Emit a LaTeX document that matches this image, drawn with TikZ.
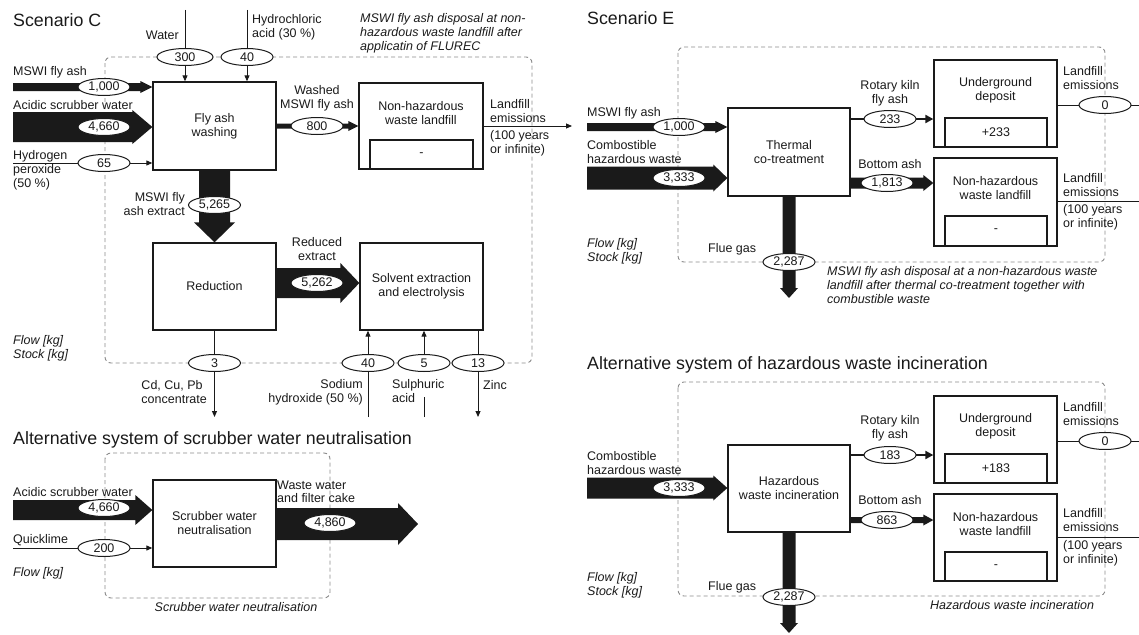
\documentclass[tikz,border=0pt]{standalone}
\usepackage{fontspec}
\setmainfont{Liberation Sans}
\usetikzlibrary{shapes.geometric,arrows.meta,calc}
\definecolor{ink}{HTML}{1A1A1A}
\definecolor{bnd}{HTML}{8A8A8A}
\newcommand\fsz{\fontsize{12.5}{14}\selectfont}
\newcommand\hsz{\fontsize{17.8}{20}\selectfont}
% horizontal band arrow: start, tip, half band, half head, head length
\newcommand\harr[5]{\fill[ink] let \p1=#1, \p2=#2 in
  (\x1,\y1-#3) -- (\x2-#5,\y1-#3) -- (\x2-#5,\y1-#4) -- (\x2,\y1) --
  (\x2-#5,\y1+#4) -- (\x2-#5,\y1+#3) -- (\x1,\y1+#3) -- cycle;}
% vertical (downward) band arrow
\newcommand\varr[5]{\fill[ink] let \p1=#1, \p2=#2 in
  (\x1-#3,\y1) -- (\x1-#3,\y2+#5) -- (\x1-#4,\y2+#5) -- (\x1,\y2) --
  (\x1+#4,\y2+#5) -- (\x1+#3,\y2+#5) -- (\x1+#3,\y1) -- cycle;}
\begin{document}
\begin{tikzpicture}[x=1pt,y=-1pt,
  box/.style={draw=ink, line width=1.3pt, inner sep=0pt, font=\fsz, text=ink, align=center},
  val/.style={ellipse, draw=ink, line width=1pt, fill=white, minimum width=52pt, minimum height=17pt, inner sep=0pt, font=\fsz, text=ink},
  lb/.style={inner sep=0pt, font=\fsz, align=center, text=ink},
  lbw/.style={lb, anchor=west, align=left},
  lbe/.style={lb, anchor=east, align=left},
  lber/.style={lb, anchor=east, align=right},
  ital/.style={lbw, font=\fsz\itshape},
  italc/.style={lb, font=\fsz\itshape},
  head/.style={inner sep=0pt, anchor=west, font=\hsz, text=ink},
  bound/.style={draw=bnd, line width=0.9pt, dash pattern=on 4pt off 3pt, rounded corners=6pt},
  thin/.style={draw=ink, line width=1pt},
  thinarr/.style={thin, -{Triangle[length=6pt,width=5pt]}},
  medarr/.style={draw=ink, line width=2pt, -{Triangle[length=8pt,width=8pt]}}]
\useasboundingbox (0,0) rectangle (1139,634);

% ================= boundaries =================
\draw[bound] (105,57) rectangle (532,363);
\draw[bound] (678,47) rectangle (1105,262);
\draw[bound] (678,382) rectangle (1105,596);
\draw[bound] (105,453) rectangle (330,598);

% ================= boxes =================
% Scenario C
\node[box, minimum width=123pt, minimum height=88pt] (fw) at (214.5,126) {Fly ash\\washing};
\node[box, minimum width=124pt, minimum height=86pt] (lf) at (421,126) {};
\node[box, minimum width=103pt, minimum height=29pt] (lfi) at (421.5,154.5) {-};
\node[box, minimum width=123pt, minimum height=87pt] (red) at (214.5,286.5) {Reduction};
\node[box, minimum width=123pt, minimum height=87pt] (sx) at (421.5,286.5) {Solvent extraction\\and electrolysis};
% Scrubber neutralisation
\node[box, minimum width=123pt, minimum height=87pt] (sn) at (214.5,523.5) {Scrubber water\\neutralisation};
% Scenario E
\node[box, minimum width=122pt, minimum height=88pt] (tc) at (789,152) {Thermal\\co-treatment};
\node[box, minimum width=123pt, minimum height=87pt] (ud) at (995.5,103.5) {};
\node[box, minimum width=102pt, minimum height=29pt] (udi) at (996,132.5) {+233};
\node[box, minimum width=123pt, minimum height=88pt] (nl) at (995.5,202) {};
\node[box, minimum width=102pt, minimum height=30pt] (nli) at (996,231) {-};
% Hazardous waste incineration
\node[box, minimum width=122pt, minimum height=87pt] (hw) at (789,488.5) {Hazardous\\waste incineration};
\node[box, minimum width=123pt, minimum height=87pt] (ud2) at (995.5,439.5) {};
\node[box, minimum width=102pt, minimum height=29pt] (udi2) at (996,468.5) {+183};
\node[box, minimum width=123pt, minimum height=87pt] (nl2) at (995.5,537.5) {};
\node[box, minimum width=102pt, minimum height=29pt] (nli2) at (996,566.5) {-};

% ================= free ends =================
\coordinate (cWat) at (185,10);
\coordinate (cHCl) at (247,10);
\coordinate (cMin) at (13,87);
\coordinate (cAin) at (13,127);
\coordinate (cHin) at (13,163);
\coordinate (cLF) at (572,126);
\coordinate (cCd) at (214.5,417);
\coordinate (cNa) at (368,417);
\coordinate (cSu) at (424,417);
\coordinate (cZn) at (478,417);
\coordinate (cEM) at (587,127);
\coordinate (cEC) at (587,178);
\coordinate (cEF) at (789,298);
\coordinate (cEU) at (1139,105);
\coordinate (cEN) at (1139,201);
\coordinate (cHC) at (587,488);
\coordinate (cHF) at (789,633);
\coordinate (cHU) at (1139,441);
\coordinate (cHN) at (1139,537);
\coordinate (cSA) at (13,510);
\coordinate (cSQ) at (13,548);
\coordinate (cSO) at (418,524);

% ================= flows: Scenario C =================
\draw[thinarr] (cWat) -- (fw.north -| cWat);
\draw[thinarr] (cHCl) -- (fw.north -| cHCl);
\harr{(cMin)}{(fw.west)}{4pt}{6pt}{12pt}
\harr{(cAin)}{(fw.west)}{15pt}{17pt}{20pt}
\draw[thinarr] (cHin) -- (fw.west |- cHin);
\harr{(fw.east)}{(lf.west)}{2.5pt}{5pt}{10pt}
\draw[thinarr] (lf.east) -- (cLF);
\varr{(fw.south)}{(red.north)}{15.5pt}{20.5pt}{20pt}
\harr{(red.east |- 0,283)}{(sx.west)}{15pt}{20pt}{19pt}
\draw[thinarr] (red.south) -- (cCd);
\draw[thinarr] (cNa) -- (sx.south -| cNa);
\draw[thin] (cSu) -- ++(0,-20);
\draw[thinarr] (cZn |- sx.south) -- (cZn);

% ================= flows: Scenario E =================
\harr{(cEM)}{(tc.west)}{4pt}{6pt}{12pt}
\harr{(cEC)}{(tc.west)}{11.5pt}{13.5pt}{14pt}
\varr{(tc.south)}{(cEF)}{6.5pt}{9pt}{10pt}
\draw[medarr] (tc.east |- 0,119) -- (ud.west |- 0,119);
\harr{(tc.east |- 0,183)}{(nl.west)}{5.5pt}{8pt}{10pt}
\draw[thin] (ud.east |- cEU) -- (cEU);
\draw[thin] (nl.east |- cEN) -- (cEN);

% ================= flows: Hazardous waste incineration =================
\harr{(cHC)}{(hw.west)}{10.5pt}{12.5pt}{14pt}
\varr{(hw.south)}{(cHF)}{6.5pt}{9pt}{10pt}
\draw[medarr] (hw.east |- 0,455) -- (ud2.west |- 0,455);
\harr{(hw.east |- 0,520)}{(nl2.west)}{3pt}{5.5pt}{10pt}
\draw[thin] (ud2.east |- cHU) -- (cHU);
\draw[thin] (nl2.east |- cHN) -- (cHN);

% ================= flows: scrubber neutralisation =================
\harr{(cSA)}{(sn.west)}{10pt}{15pt}{17pt}
\draw[thinarr] (cSQ) -- (sn.west |- cSQ);
\harr{(sn.east |- cSO)}{(cSO)}{16pt}{21pt}{20pt}

% ================= values =================
\node[val, minimum width=56pt] (v300) at (185,57) {300};
\node[val] (v40a) at (247,57) {40};
\node[val] (v1000a) at (104,87) {1,000};
\node[val] (v4660a) at (104,127) {4,660};
\node[val] (v65) at (104,163) {65};
\node[val] (v5265) at (214.5,205) {5,265};
\node[val] (v800) at (317,126) {800};
\node[val] (v5262) at (317,283) {5,262};
\node[val] (v3) at (214.5,363) {3};
\node[val] (v40b) at (368,363) {40};
\node[val] (v5) at (424,363) {5};
\node[val] (v13) at (478,363) {13};
\draw[thinarr] (v5.north) -- (sx.south -| v5);

\node[val] (v1000b) at (679,127) {1,000};
\node[val] (v3333a) at (679,178) {3,333};
\node[val] (v2287a) at (789,262) {2,287};
\node[val] (v233) at (890,119) {233};
\node[val] (v1813) at (887,183) {1,813};
\node[val] (v0a) at (1105,105) {0};

\node[val] (v3333b) at (679,488) {3,333};
\node[val] (v2287b) at (789,597) {2,287};
\node[val] (v183) at (890,455) {183};
\node[val] (v863) at (887,520) {863};
\node[val] (v0b) at (1105,441) {0};

\node[val] (v4660b) at (104,508) {4,660};
\node[val] (v200) at (104,548) {200};
\node[val] (v4860) at (330,523) {4,860};

% ================= labels: Scenario C =================
\node[head] (tC) at (13,20) {Scenario C};
\node[lbe] (tWat) at (179,35) {Water};
\node[lbw] (tHCl) at (252,27) {Hydrochloric\\acid (30 \%)};
\node[ital] (tCapC) at (360,33.5) {MSWI fly ash disposal at non-\\hazardous waste landfill after\\applicatin of FLUREC};
\node[lbw] (tMin) at (13,72) {MSWI fly ash};
\node[lbw] (tAin) at (13,105) {Acidic scrubber water};
\node[lbw] (tHin) at (13,170) {Hydrogen\\peroxide\\(50 \%)};
\node[lb] (tWash) at (317,98.5) {Washed\\MSWI fly ash};
\node[lb] (tLF) at (421,113.5) {Non-hazardous\\waste landfill};
\node[lbw] (tLE) at (490,111.5) {Landfill\\emissions};
\node[lbw] (tLY) at (490,143.5) {(100 years\\or infinite)};
\node[lber] (tExt) at (185,204) {MSWI fly\\ash extract};
\node[lb] (tRed) at (317,249) {Reduced\\extract};
\node[lbe] (tCd) at (207,392) {Cd, Cu, Pb\\concentrate};
\node[lber] (tNa) at (363,392) {Sodium\\hydroxide (50 \%)};
\node[lbw, fill=white] (tSu) at (392,385) {Sulphuric};
\node[lbw] (tSu2) at (392,398) {acid};
\node[lbw] (tZn) at (483,385) {Zinc};
\node[ital] (tFSC) at (13,348.5) {Flow [kg]\\Stock [kg]};

% ================= labels: scrubber neutralisation =================
\node[head] (tSN) at (13,440) {Alternative system of scrubber water neutralisation};
\node[lbw] (tSA) at (13,492) {Acidic scrubber water};
\node[lbw] (tSQ) at (13,540) {Quicklime};
\node[lbw, font=\fontsize{12.5}{13}\selectfont] (tSO) at (277,492) {Waste water\\and filter cake};
\node[ital] (tFSN) at (13,573) {Flow [kg]};
\node[italc] (tCapSN) at (236,607) {Scrubber water neutralisation};

% ================= labels: Scenario E =================
\node[head] (tE) at (587,18) {Scenario E};
\node[lbw] (tEM) at (587,113) {MSWI fly ash};
\node[lbw] (tEC) at (587,152.5) {Combostible\\hazardous waste};
\node[lbw] (tEF) at (708,249) {Flue gas};
\node[ital] (tFSE) at (587,251) {Flow [kg]\\Stock [kg]};
\node[lb] (tRK) at (890,93) {Rotary kiln\\fly ash};
\node[lb] (tBA) at (890,164) {Bottom ash};
\node[lb] (tUD) at (995.5,90.5) {Underground\\deposit};
\node[lb] (tNL) at (995.5,188) {Non-hazardous\\waste landfill};
\node[lbw] (tLE1) at (1063,78.5) {Landfill\\emissions};
\node[lbw] (tLE2) at (1063,185) {Landfill\\emissions};
\node[lbw] (tLY2) at (1063,217) {(100 years\\or infinite)};
\node[ital] (tCapE) at (827,285) {MSWI fly ash disposal at a non-hazardous waste\\landfill after thermal co-treatment together with\\combustible waste};

% ================= labels: Hazardous waste incineration =================
\node[head] (tHW) at (587,365) {Alternative system of hazardous waste incineration};
\node[lbw] (tHC) at (587,463.5) {Combostible\\hazardous waste};
\node[lbw] (tHF) at (708,587) {Flue gas};
\node[ital] (tFSH) at (587,585) {Flow [kg]\\Stock [kg]};
\node[lb] (tRK2) at (890,428.5) {Rotary kiln\\fly ash};
\node[lb] (tBA2) at (890,500) {Bottom ash};
\node[lb] (tUD2) at (995.5,426.5) {Underground\\deposit};
\node[lb] (tNL2) at (995.5,524.5) {Non-hazardous\\waste landfill};
\node[lbw] (tLE3) at (1063,414.5) {Landfill\\emissions};
\node[lbw] (tLE4) at (1063,520.5) {Landfill\\emissions};
\node[lbw] (tLY4) at (1063,553.5) {(100 years\\or infinite)};
\node[italc] (tCapH) at (1012,605) {Hazardous waste incineration};
\end{tikzpicture}
\end{document}
